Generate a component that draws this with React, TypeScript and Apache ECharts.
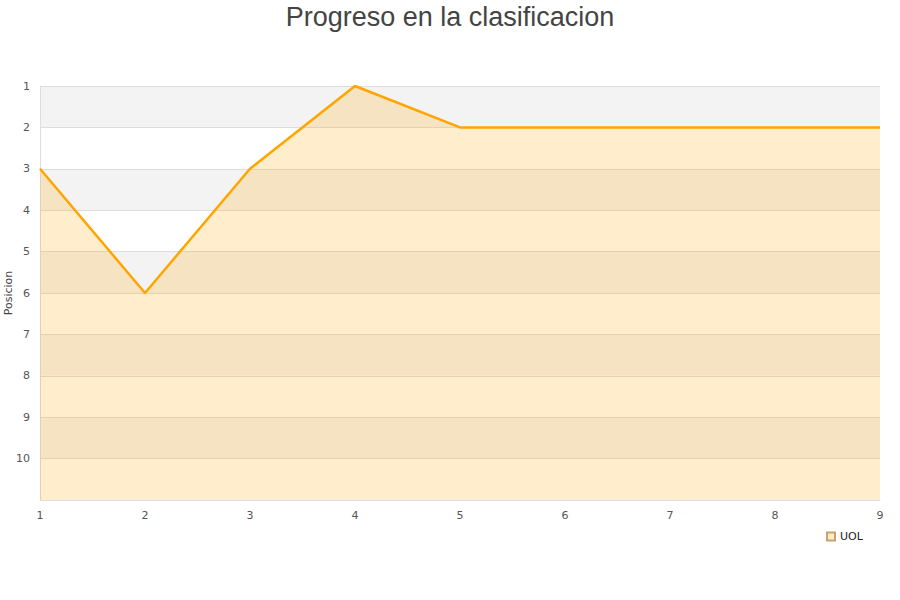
import React, { useEffect, useRef } from "react";
import * as echarts from "echarts";

const jornadas = ["1", "2", "3", "4", "5", "6", "7", "8", "9"];
const posiciones = [3, 6, 3, 1, 2, 2, 2, 2, 2];
const equipo = "UOL";

export default function App() {
  const ref = useRef<HTMLDivElement>(null);

  useEffect(() => {
    if (!ref.current) return;
    const chart = echarts.init(ref.current, null, { renderer: "svg" });
    chart.setOption({
      animation: false,
      title: {
        text: "Progreso en la clasificacion",
        left: "center",
        top: -2,
        textStyle: {
          fontFamily: "Liberation Sans",
          fontSize: 27,
          fontWeight: "normal",
          color: "#444444",
        },
      },
      legend: {
        data: [equipo],
        left: 821,
        top: 526,
        icon: "rect",
        itemWidth: 8,
        itemHeight: 8,
        itemGap: 6,
        textStyle: { fontSize: 11, color: "#222", fontFamily: "DejaVu Sans" },
      },
      grid: {
        left: 40,
        right: 20,
        top: 86,
        bottom: 100,
        containLabel: false,
        outerBoundsMode: "none",
      },
      xAxis: {
        type: "category",
        data: jornadas,
        boundaryGap: false,
        axisLine: { onZero: false, lineStyle: { color: "#dddddd" } },
        axisTick: { show: false },
        axisLabel: { color: "#555", fontSize: 11, margin: 10, fontFamily: "DejaVu Sans" },
        splitLine: { show: false },
      },
      yAxis: {
        type: "value",
        inverse: true,
        min: 1,
        max: 11,
        interval: 1,
        name: "Posicion",
        nameLocation: "middle",
        nameGap: 26,
        nameMoveOverlap: false,
        nameTextStyle: { fontSize: 11, color: "#444", fontFamily: "DejaVu Sans" },
        axisLine: { show: true, lineStyle: { color: "#dddddd" } },
        axisTick: { show: false },
        axisLabel: {
          color: "#555",
          fontSize: 11,
          margin: 10,
          fontFamily: "DejaVu Sans",
          formatter: (v: number) => (v === 11 ? "" : String(v)),
        },
        splitLine: { show: true, lineStyle: { color: "#dddddd" } },
        splitArea: { show: true, areaStyle: { color: ["#f3f3f3", "#ffffff"] } },
      },
      series: [
        {
          name: equipo,
          type: "line",
          data: posiciones,
          symbol: "none",
          lineStyle: { color: "#ffa500", width: 2.5 },
          itemStyle: { color: "#fdebc8", borderColor: "#c9a16a", borderWidth: 1 },
          areaStyle: { color: "#ffa500", opacity: 0.2, origin: "end" },
        },
      ],
    });
    return () => chart.dispose();
  }, []);

  return (
    <div
      ref={ref}
      style={{ position: "absolute", left: 0, top: 0, width: 900, height: 600 }}
    />
  );
}
